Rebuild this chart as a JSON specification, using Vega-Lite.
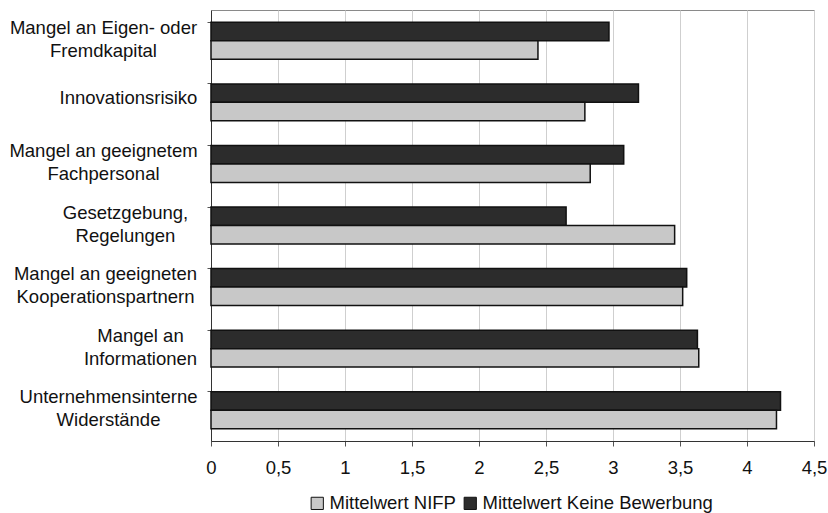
{
  "$schema": "https://vega.github.io/schema/vega-lite/v6.json",
  "autosize": "none",
  "width": 603,
  "height": 431,
  "padding": {"left": 211, "top": 10, "right": 14, "bottom": 72},
  "background": "white",
  "config": {
    "font": "Liberation Sans",
    "view": {"stroke": "#8a8a8a", "strokeWidth": 1},
    "axis": {"labelFont": "Liberation Sans", "labelColor": "#111", "labelFontSize": 18.5}
  },
  "data": {
    "values": [
      {"problem": "Mangel an Eigen- oder|Fremdkapital", "series": "Mittelwert Keine Bewerbung", "value": 2.97},
      {"problem": "Mangel an Eigen- oder|Fremdkapital", "series": "Mittelwert NIFP", "value": 2.44},
      {"problem": "Innovationsrisiko", "series": "Mittelwert Keine Bewerbung", "value": 3.19},
      {"problem": "Innovationsrisiko", "series": "Mittelwert NIFP", "value": 2.79},
      {"problem": "Mangel an geeignetem|Fachpersonal", "series": "Mittelwert Keine Bewerbung", "value": 3.08},
      {"problem": "Mangel an geeignetem|Fachpersonal", "series": "Mittelwert NIFP", "value": 2.83},
      {"problem": "Gesetzgebung,|Regelungen", "series": "Mittelwert Keine Bewerbung", "value": 2.65},
      {"problem": "Gesetzgebung,|Regelungen", "series": "Mittelwert NIFP", "value": 3.46},
      {"problem": "Mangel an geeigneten|Kooperationspartnern", "series": "Mittelwert Keine Bewerbung", "value": 3.55},
      {"problem": "Mangel an geeigneten|Kooperationspartnern", "series": "Mittelwert NIFP", "value": 3.52},
      {"problem": "Mangel an|Informationen", "series": "Mittelwert Keine Bewerbung", "value": 3.63},
      {"problem": "Mangel an|Informationen", "series": "Mittelwert NIFP", "value": 3.64},
      {"problem": "Unternehmensinterne|Widerstände", "series": "Mittelwert Keine Bewerbung", "value": 4.25},
      {"problem": "Unternehmensinterne|Widerstände", "series": "Mittelwert NIFP", "value": 4.22}
    ]
  },
  "mark": {"type": "bar", "stroke": "#111", "strokeWidth": 1.5},
  "encoding": {
    "y": {
      "field": "problem",
      "type": "nominal",
      "sort": null,
      "scale": {"paddingInner": 0.4, "paddingOuter": 0.2},
      "axis": {
        "title": null,
        "labelExpr": "split(datum.label, '|')",
        "labelLineHeight": 23,
        "labelLimit": 0,
        "labelAlign": "center",
        "labelPadding": {
          "condition": [
            {"test": "datum.value === 'Innovationsrisiko'", "value": 79},
            {"test": "datum.value === 'Mangel an|Informationen'", "value": 67},
            {"test": "datum.value === 'Gesetzgebung,|Regelungen'", "value": 82},
            {"test": "datum.value === 'Unternehmensinterne|Widerstände'", "value": 99},
            {"test": "datum.value === 'Mangel an geeigneten|Kooperationspartnern'", "value": 102}
          ],
          "value": 104
        },
        "labelOffset": {
          "condition": {"test": "indexof(datum.value, '|') >= 0", "value": -13},
          "value": -4
        },
        "bandPosition": 0,
        "tickSize": 4,
        "tickColor": "#555",
        "domainColor": "#333",
        "grid": false
      }
    },
    "yOffset": {
      "field": "series",
      "sort": ["Mittelwert Keine Bewerbung", "Mittelwert NIFP"]
    },
    "x": {
      "field": "value",
      "type": "quantitative",
      "scale": {"domain": [0, 4.5], "nice": false},
      "axis": {
        "title": null,
        "values": [0, 0.5, 1, 1.5, 2, 2.5, 3, 3.5, 4, 4.5],
        "labelExpr": "replace(format(datum.value, '~g'), '.', ',')",
        "labelPadding": 12,
        "tickSize": 5,
        "tickColor": "#555",
        "domainColor": "#333",
        "gridColor": "#cfcfcf",
        "gridWidth": 1,
        "labelFlush": false
      }
    },
    "color": {
      "field": "series",
      "type": "nominal",
      "scale": {
        "domain": ["Mittelwert NIFP", "Mittelwert Keine Bewerbung"],
        "range": ["#c8c8c8", "#2c2c2c"]
      },
      "legend": {
        "title": null,
        "orient": "none",
        "legendX": 97,
        "legendY": 484,
        "direction": "horizontal",
        "symbolType": "square",
        "symbolSize": 150,
        "symbolStrokeColor": "#111",
        "symbolStrokeWidth": 1,
        "labelFontSize": 18.5,
        "labelFont": "Liberation Sans",
        "labelColor": "#111",
        "labelLimit": 0,
        "labelOffset": 3,
        "columnPadding": 5
      }
    }
  }
}
